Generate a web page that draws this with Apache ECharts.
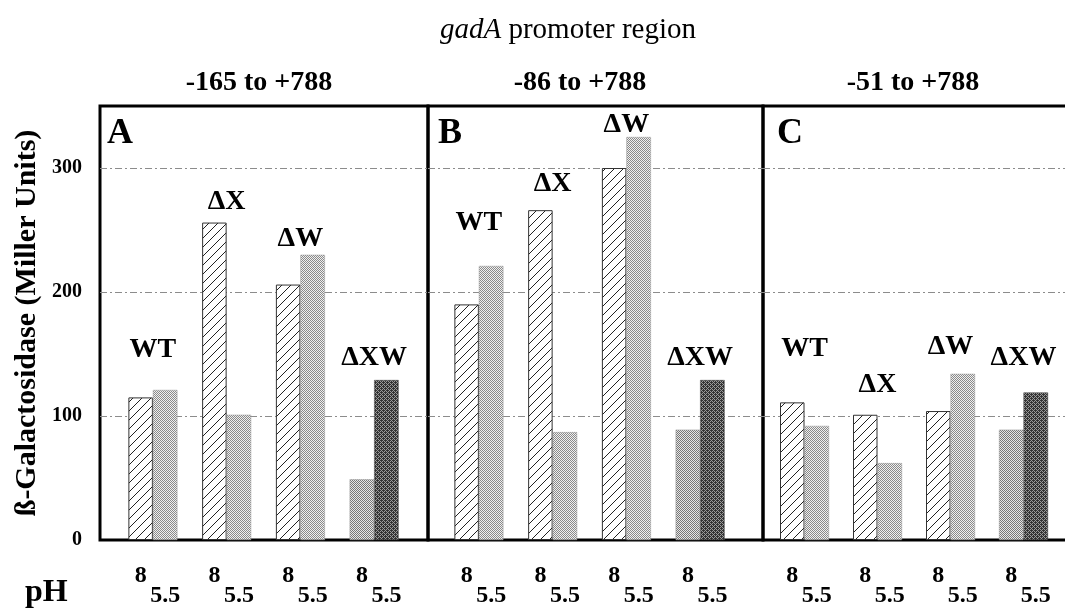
<!DOCTYPE html>
<html><head><meta charset="utf-8">
<script src="https://cdn.jsdelivr.net/npm/echarts@6/dist/echarts.min.js"></script>
<style>html,body{margin:0;padding:0;background:#fff}#c{width:1065px;height:609px}</style>
</head><body><div id="c"></div>
<script>
// ---------------- data ----------------
const groups = ['WT', 'ΔX', 'ΔW', 'ΔXW'];
const panelNames = ['A', 'B', 'C'];
const panelRegions = ['-165 to +788', '-86 to +788', '-51 to +788'];
const pHLabels = ['8', '5.5'];
const yTicks = [0, 100, 200, 300];
const pH8_A  = [115, 256, 206, 49];
const pH55_A = [121, 101, 230, 129];
const pH8_B  = [190, 266, 300, 89];
const pH55_B = [221, 87, 325, 129];
const pH8_C  = [111, 101, 104, 89];
const pH55_C = [92, 62, 134, 119];
const titleMain = 'gadA';
const titleRest = ' promoter region';
const yName = 'ß-Galactosidase (Miller Units)';
const xName = 'pH';

// ---------------- styles ----------------
const SERIF = '"Liberation Serif", "Times New Roman", Times, serif';
const panels8 = [pH8_A, pH8_B, pH8_C];
const panels55 = [pH55_A, pH55_B, pH55_C];
// gap between group label and taller bar (style only)
const labelLift = [[26, 7, 2, 8], [29, 12, -2, 8], [40, 16, 13, 21]];
const frames = [{left: 100, width: 328}, {left: 428, width: 335}, {left: 763, width: 315}];
const inner = [{left: 116, width: 295}, {left: 442, width: 295}, {left: 768, width: 292}];
const TOP = 106, HEIGHT = 434, YMAX = 350;

function makeHatch() {
  const s = 9, c = document.createElement('canvas');
  c.width = c.height = s;
  const g = c.getContext('2d');
  g.fillStyle = '#fff'; g.fillRect(0, 0, s, s);
  g.strokeStyle = '#222'; g.lineWidth = 1;
  g.beginPath();
  g.moveTo(-1, s + 1); g.lineTo(s + 1, -1);
  g.moveTo(-2, 2); g.lineTo(2, -2);
  g.moveTo(s - 2, s + 2); g.lineTo(s + 2, s - 2);
  g.stroke();
  return c;
}
const bayer = [[0, 8, 2, 10], [12, 4, 14, 6], [3, 11, 1, 9], [15, 7, 13, 5]];
function makeStipple(bg, fg, density) {
  const s = 4, c = document.createElement('canvas');
  c.width = c.height = s;
  const g = c.getContext('2d');
  g.fillStyle = bg; g.fillRect(0, 0, s, s);
  g.fillStyle = fg;
  for (let y = 0; y < s; y++) for (let x = 0; x < s; x++)
    if (bayer[y][x] < density * 16) g.fillRect(x, y, 1, 1);
  return c;
}
const hatch = {image: makeHatch(), repeat: 'repeat'};
const lightDots = {image: makeStipple('#f0f0f0', '#8a8a8a', 0.5), repeat: 'repeat'};
const midDots = {image: makeStipple('#e6e6e6', '#777', 0.45), repeat: 'repeat'};
const darkDots = {image: makeStipple('#9a9a9a', '#333', 0.6), repeat: 'repeat'};

const labelFont = {fontFamily: SERIF, fontWeight: 'bold', color: '#000'};

const grids = frames.map(f => ({left: f.left, width: f.width, top: TOP, height: HEIGHT, show: true,
    borderColor: '#000', borderWidth: 3, backgroundColor: 'transparent', containLabel: false, outerBoundsMode: 'none'}))
  .concat(inner.map(f => ({left: f.left, width: f.width, top: TOP, height: HEIGHT, containLabel: false, outerBoundsMode: 'none'})));

const xAxes = frames.map((f, i) => ({type: 'value', gridIndex: i, min: 0, max: 1, show: false}))
  .concat(inner.map((f, i) => ({type: 'category', gridIndex: 3 + i, data: groups, show: false})));

const yAxes = frames.map((f, i) => ({
  type: 'value', gridIndex: i, min: 0, max: YMAX, interval: 100,
  axisLine: {show: false}, axisTick: {show: false},
  axisLabel: {show: i === 0, margin: 18, fontSize: 20, showMaxLabel: false,
    formatter: v => (yTicks.indexOf(v) >= 0 ? String(v) : ''), ...labelFont},
  splitLine: {show: true, showMinLine: false, showMaxLine: false,
    lineStyle: {color: '#8c8c8c', width: 1, type: [7, 3, 2, 3]}},
  name: i === 0 ? yName : '', nameLocation: 'middle', nameRotate: 90, nameGap: 58,
  nameTextStyle: {fontSize: 30, ...labelFont}
})).concat(inner.map((f, i) => ({type: 'value', gridIndex: 3 + i, min: 0, max: YMAX, show: false})));

const series = [];
panelNames.forEach((p, pi) => {
  const a = panels8[pi], b = panels55[pi];
  series.push({
    type: 'bar', name: 'pH ' + pHLabels[0], xAxisIndex: 3 + pi, yAxisIndex: 3 + pi,
    barWidth: 24.5, barGap: '0%',
    data: a.map((v, i) => ({value: v, itemStyle: i === 3
      ? {color: midDots, borderColor: '#999', borderWidth: 0.5}
      : {color: hatch, borderColor: '#333', borderWidth: 1}})),
    label: {show: true, position: 'bottom', distance: 24, formatter: pHLabels[0], fontSize: 24, ...labelFont}
  });
  series.push({
    type: 'bar', name: 'pH ' + pHLabels[1], xAxisIndex: 3 + pi, yAxisIndex: 3 + pi,
    barWidth: 24.5, barGap: '0%',
    data: b.map((v, i) => ({value: v, itemStyle: i === 3
      ? {color: darkDots, borderColor: '#444', borderWidth: 0.5}
      : {color: lightDots, borderColor: '#999', borderWidth: 0.5}})),
    label: {show: true, position: 'bottom', distance: 44, formatter: pHLabels[1], fontSize: 24, ...labelFont}
  });
  series.push({
    type: 'scatter', name: 'strain', xAxisIndex: 3 + pi, yAxisIndex: 3 + pi,
    symbolSize: 0, silent: true, itemStyle: {opacity: 1, color: '#000'},
    data: a.map((v, i) => ({value: Math.max(v, b[i]), label: {distance: labelLift[pi][i]}})),
    label: {show: true, position: 'top', formatter: '{b}', fontSize: 28, ...labelFont}
  });
});

const panelTitleX = [259, 580, 913];
const letterX = [107, 438, 777];
const txt = (x, y, text, size, align) => ({type: 'text', x: x, y: y, silent: true,
  style: {text: text, fontSize: size, fontFamily: SERIF, fontWeight: 'bold', fill: '#000',
    align: align, verticalAlign: 'middle'}});

const graphic = [
  {type: 'text', x: 568, y: 30, silent: true, style: {
    text: '{i|' + titleMain + '}' + titleRest, fontSize: 29, fontFamily: SERIF, fontWeight: 'normal', fill: '#000',
    align: 'center', verticalAlign: 'middle',
    rich: {i: {fontStyle: 'italic', fontSize: 29, fontFamily: SERIF, fontWeight: 'normal'}}}},
  txt(25, 593, xName, 32, 'left')
];
panelNames.forEach((p, i) => {
  graphic.push(txt(panelTitleX[i], 83, panelRegions[i], 28, 'center'));
  graphic.push(txt(letterX[i], 134, p, 36, 'left'));
});

const chart = echarts.init(document.getElementById('c'), null, {renderer: 'canvas'});
chart.setOption({
  animation: false, backgroundColor: '#fff',
  grid: grids, xAxis: xAxes, yAxis: yAxes, series: series, graphic: graphic
});
</script></body></html>
